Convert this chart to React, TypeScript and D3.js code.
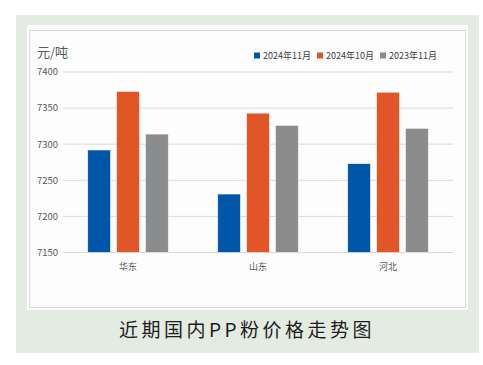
import * as d3 from 'd3';
import { useEffect, useRef } from 'react';

// regions and series
const regions = ['华东', '山东', '河北'];
const seriesNames = ['2024年11月', '2024年10月', '2023年11月'];
const nov2024 = [7292, 7231, 7273];
const oct2024 = [7373, 7343, 7372];
const nov2023 = [7314, 7326, 7322];
const yTicks = [7150, 7200, 7250, 7300, 7350, 7400];
const colors = ['#0057a9', '#e15526', '#8a8c8e'];

const FONT = '"Noto Sans CJK SC", "Noto Sans", sans-serif';

const App = () => {
  const svgRef = useRef<SVGSVGElement | null>(null);

  useEffect(() => {
    const width = 483;
    const height = 365;
    const svg = d3.select(svgRef.current).attr('width', width).attr('height', height);
    svg.selectAll('*').remove();

    // panels
    svg.append('rect').attr('width', width).attr('height', height).attr('fill', '#ffffff');
    svg.append('rect').attr('x', 16).attr('y', 15).attr('width', 463).attr('height', 338).attr('fill', '#e4ebe3');
    svg.append('rect').attr('x', 27).attr('y', 25).attr('width', 441).attr('height', 285).attr('fill', '#fbfbfb');
    svg.append('rect').attr('x', 29.5).attr('y', 30.5).attr('width', 436).attr('height', 277)
      .attr('fill', '#fdfdfd').attr('stroke', '#dcdcdc');

    const x0 = d3.scaleBand().domain(regions).range([63, 453]).paddingInner(0).paddingOuter(0);
    const y = d3.scaleLinear().domain([7150, 7400]).range([252.5, 72]);

    // gridlines + y labels
    const g = svg.append('g');
    g.selectAll('line.grid').data(yTicks).enter().append('line')
      .attr('x1', 63).attr('x2', 453)
      .attr('y1', (d) => y(d)).attr('y2', (d) => y(d))
      .attr('stroke', '#d9d9d9').attr('stroke-width', 1);
    g.selectAll('text.ylab').data(yTicks).enter().append('text')
      .attr('x', 58).attr('y', (d) => y(d)).attr('dy', '0.35em')
      .attr('text-anchor', 'end').attr('font-size', 9.5).attr('font-family', FONT)
      .attr('fill', '#595959').text((d) => d);

    // bars
    const series = [nov2024, oct2024, nov2023];
    const barW = 22.7;
    const step = 28.9;
    series.forEach((vals, si) => {
      g.selectAll(`rect.s${si}`).data(vals).enter().append('rect')
        .attr('x', (_, i) => (x0(regions[i]) as number) + x0.bandwidth() / 2 - barW / 2 + (si - 1) * step)
        .attr('y', (d) => y(d))
        .attr('width', barW)
        .attr('height', (d) => y(7150) - y(d))
        .attr('fill', colors[si])
        .attr('stroke', '#f3f3f3').attr('stroke-width', 0.6);
    });

    // category labels
    g.selectAll('text.cat').data(regions).enter().append('text')
      .attr('x', (d) => (x0(d) as number) + x0.bandwidth() / 2)
      .attr('y', 267).attr('dy', '0.35em')
      .attr('text-anchor', 'middle').attr('font-size', 9).attr('font-family', FONT)
      .attr('fill', '#595959').text((d) => d);

    // axis title
    svg.append('text').attr('x', 37).attr('y', 52).attr('dy', '0.35em')
      .attr('font-size', 13).attr('font-family', FONT).attr('fill', '#595959').text('元/吨');

    // legend
    const legendX = [254, 317, 380];
    seriesNames.forEach((name, i) => {
      svg.append('rect').attr('x', legendX[i]).attr('y', 52.5).attr('width', 6).attr('height', 6).attr('fill', colors[i]);
      svg.append('text').attr('x', legendX[i] + 9).attr('y', 56).attr('dy', '0.35em')
        .attr('font-size', 9).attr('font-family', FONT).attr('fill', '#404040').text(name);
    });

    // caption
    svg.append('text').attr('x', 247).attr('y', 330).attr('dy', '0.35em')
      .attr('text-anchor', 'middle').attr('font-size', 19).attr('font-family', FONT)
      .attr('letter-spacing', 3.5).attr('fill', '#1e1e1e').text('近期国内PP粉价格走势图');
  }, []);

  return (
    <svg ref={svgRef} style={{ position: 'absolute', left: 0, top: 0, display: 'block' }} />
  );
};

export default App;
